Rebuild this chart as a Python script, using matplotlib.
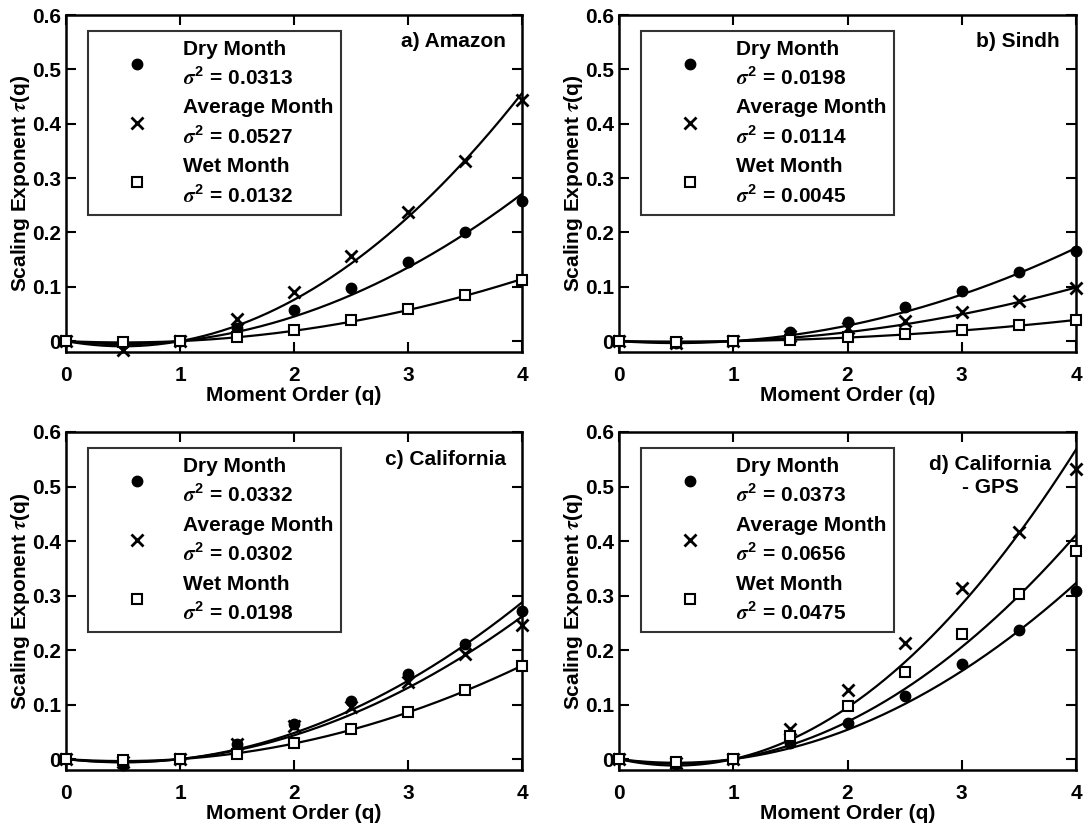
import numpy as np
import matplotlib
matplotlib.use("Agg")
import matplotlib.pyplot as plt

plt.rcParams['font.family'] = ['Liberation Sans', 'DejaVu Sans']
plt.rcParams['font.weight'] = 'bold'
plt.rcParams['mathtext.fontset'] = 'custom'
plt.rcParams['mathtext.it'] = 'STIXGeneral:italic'
plt.rcParams['mathtext.rm'] = 'Liberation Sans:bold'
plt.rcParams['mathtext.bf'] = 'Liberation Sans:bold'

# moment orders
q = [0, 0.5, 1, 1.5, 2, 2.5, 3, 3.5, 4]

# ---- a) Amazon
amazon_dry = [0, -0.005, 0, 0.024, 0.057, 0.098, 0.145, 0.200, 0.258]
amazon_avg = [0, -0.017, 0, 0.041, 0.091, 0.157, 0.238, 0.332, 0.443]
amazon_wet = [0, -0.002, 0, 0.007, 0.021, 0.038, 0.059, 0.084, 0.112]
amazon_sig = [0.0313, 0.0527, 0.0132]

# ---- b) Sindh
sindh_dry = [0, -0.003, 0, 0.016, 0.035, 0.063, 0.093, 0.128, 0.165]
sindh_avg = [0, -0.004, 0, 0.009, 0.024, 0.037, 0.053, 0.073, 0.097]
sindh_wet = [0, -0.002, 0, 0.002, 0.008, 0.013, 0.020, 0.029, 0.038]
sindh_sig = [0.0198, 0.0114, 0.0045]

# ---- c) California
calif_dry = [0, -0.010, 0, 0.027, 0.064, 0.107, 0.157, 0.212, 0.271]
calif_avg = [0, -0.006, 0, 0.027, 0.061, 0.095, 0.141, 0.193, 0.246]
calif_wet = [0, -0.001, 0, 0.010, 0.030, 0.055, 0.087, 0.126, 0.171]
calif_sig = [0.0332, 0.0302, 0.0198]

# ---- d) California - GPS
gps_dry = [0, -0.009, 0, 0.030, 0.066, 0.116, 0.174, 0.237, 0.308]
gps_avg = [0, -0.008, 0, 0.055, 0.126, 0.213, 0.313, 0.416, 0.532]
gps_wet = [0, -0.006, 0, 0.042, 0.097, 0.160, 0.230, 0.302, 0.382]
gps_sig = [0.0373, 0.0656, 0.0475]

panels = [
    ("a) Amazon", amazon_dry, amazon_avg, amazon_wet, amazon_sig, 'right'),
    ("b) Sindh", sindh_dry, sindh_avg, sindh_wet, sindh_sig, 'right'),
    ("c) California", calif_dry, calif_avg, calif_wet, calif_sig, 'right'),
    ("d) California\n- GPS", gps_dry, gps_avg, gps_wet, gps_sig, 'center'),
]

names = ["Dry Month", "Average Month", "Wet Month"]
mstyle = [
    dict(marker='o', markersize=7.5, color='k', linestyle='none'),
    dict(marker='x', markersize=9, markeredgewidth=2, color='k', linestyle='none'),
    dict(marker='s', markersize=6.5, markeredgewidth=1.5, markerfacecolor='white',
         markeredgecolor='k', linestyle='none'),
]


def tau_model(qq, sig2):
    # lognormal cascade: tau(q) = sigma^2 / (2 ln 2) * (q^2 - q)
    qq = np.asarray(qq)
    return sig2 / (2 * np.log(2)) * (qq ** 2 - qq)


W, H = 1085, 826
fig = plt.figure(figsize=(W / 100, H / 100), dpi=100)

# axes boxes in pixels: left, top, right, bottom
boxes = [(66, 15, 522, 352), (619, 15, 1076, 352),
         (66, 432, 522, 770), (619, 432, 1076, 770)]

qf = np.linspace(0, 4, 200)

for (title, dry, avg, wet, sig, ha), (l, t, r, b) in zip(panels, boxes):
    ax = fig.add_axes([l / W, 1 - b / H, (r - l) / W, (b - t) / H])
    series = [dry, avg, wet]
    handles = []
    for k in range(3):
        ax.plot(qf, tau_model(qf, sig[k]), color='k', lw=1.6, zorder=2)
        h, = ax.plot(q, series[k], zorder=3, clip_on=False, **mstyle[k],
                     label=names[k] + "\n" + r"$\sigma^{\mathbf{2}}$" + " = %.4f" % sig[k])
        handles.append(h)

    ax.set_xlim(0, 4)
    ax.set_ylim(-0.02, 0.6)
    ax.set_xticks([0, 1, 2, 3, 4])
    ax.set_yticks([0, 0.1, 0.2, 0.3, 0.4, 0.5, 0.6])
    ax.set_yticklabels(['0', '0.1', '0.2', '0.3', '0.4', '0.5', '0.6'])
    ax.tick_params(direction='in', length=7, width=1.5, labelsize=15,
                   top=True, right=True)
    ax.tick_params(axis='x', pad=10)
    ax.tick_params(axis='y', pad=3.5)
    for s in ax.spines.values():
        s.set_linewidth(1.8)
    ax.set_xlabel("Moment Order (q)", fontsize=15, fontweight='bold', labelpad=1)
    ax.set_ylabel(r"Scaling Exponent $\tau$(q)", fontsize=15, fontweight='bold', labelpad=0)

    if ha == 'right':
        ax.text(0.965, 0.92, title, transform=ax.transAxes, ha='right', va='center',
                fontsize=15, fontweight='bold')
    else:
        ax.text(0.812, 0.87, title, transform=ax.transAxes, ha='center', va='center',
                fontsize=15, fontweight='bold', linespacing=1.3)

    leg = ax.legend(handles=handles, loc='upper left', bbox_to_anchor=(0.048, 0.952),
                    borderaxespad=0, fontsize=15, frameon=True, fancybox=False,
                    handlelength=3.9, handletextpad=0.25, labelspacing=0.46,
                    borderpad=0.4)
    leg.get_frame().set_edgecolor('k')
    leg.get_frame().set_linewidth(1.5)
    for txt in leg.get_texts():
        txt.set_linespacing(1.45)

fig.savefig("out.png", dpi=100)
